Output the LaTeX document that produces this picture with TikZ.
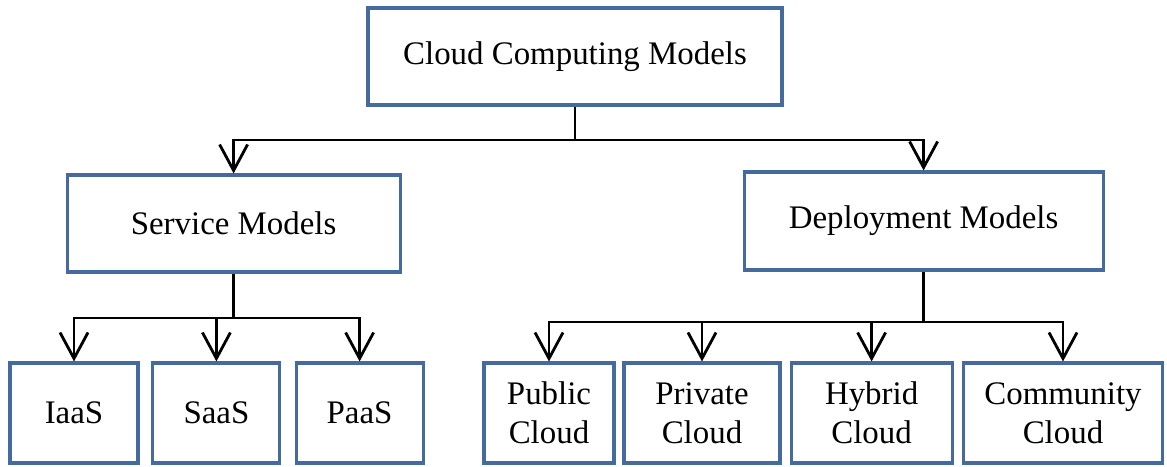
\documentclass[tikz,border=0pt]{standalone}
\usepackage{fontspec}
\setmainfont{Liberation Serif}
\usepackage{tikz}
\usetikzlibrary{arrows.meta, positioning}
\definecolor{boxblue}{RGB}{68,106,158}

\begin{document}
\begin{tikzpicture}

	\tikzstyle{model}=[rectangle, draw=boxblue, line width=2.2pt, align=center, font=\fontsize{23.4}{28}\selectfont, inner sep=0pt]
	\tikzstyle{arc}=[-{Straight Barb[length=6.5mm,width=7mm]}, line width=2pt, black]
	\tikzstyle{link}=[line width=2pt, black]

	\useasboundingbox (0,0) rectangle (29.175,11.65);

	% placement des noeuds
	\node[model, minimum width=10.35cm, minimum height=2.425cm] 	(ccm) at (14.375,10.2375) 	{Cloud Computing Models};
	\node[model, minimum width=8.325cm, minimum height=2.425cm] 	(serv) at (5.84,6.0625) 	{Service Models};
	\node[model, minimum width=8.975cm, minimum height=2.45cm] 	(depl) at (23.09,6.125) 	{Deployment Models};
	\node[model, minimum width=3.2cm, minimum height=2.5cm] 	(iaas) at (1.85,1.325) 	{IaaS};
	\node[model, minimum width=3.175cm, minimum height=2.5cm] 	(saas) at (5.41,1.325) 	{SaaS};
	\node[model, minimum width=3.175cm, minimum height=2.5cm] 	(paas) at (8.99,1.325) 	{PaaS};
	\node[model, minimum width=3.25cm, minimum height=2.5cm] 	(pub) at (13.725,1.325) 	{Public\\Cloud};
	\node[model, minimum width=3.9cm, minimum height=2.5cm] 	(priv) at (17.55,1.325) 	{Private\\Cloud};
	\node[model, minimum width=4.025cm, minimum height=2.5cm] 	(hyb) at (21.79,1.325) 	{Hybrid\\Cloud};
	\node[model, minimum width=4.975cm, minimum height=2.5cm] 	(comm) at (26.575,1.325) 	{Community\\Cloud};

	\coordinate (top) at (ccm.south |- 0,8.15);
	\coordinate (left) at (serv.south |- 0,3.7);
	\coordinate (right) at (depl.south |- 0,3.6);
	\draw[link] (ccm.south) -- (top) ;
	\draw[arc] (top) -| (serv.north) ;
	\draw[arc] (top) -| (depl.north) ;
	\draw[link] (serv.south) -- (left) ;
	\draw[arc] (left) -| (iaas.north) ;
	\draw[arc] (left) -| (saas.north) ;
	\draw[arc] (left) -| (paas.north) ;
	\draw[link] (depl.south) -- (right) ;
	\draw[arc] (right) -| (pub.north) ;
	\draw[arc] (right) -| (priv.north) ;
	\draw[arc] (right) -| (hyb.north) ;
	\draw[arc] (right) -| (comm.north) ;

\end{tikzpicture}
\end{document}
